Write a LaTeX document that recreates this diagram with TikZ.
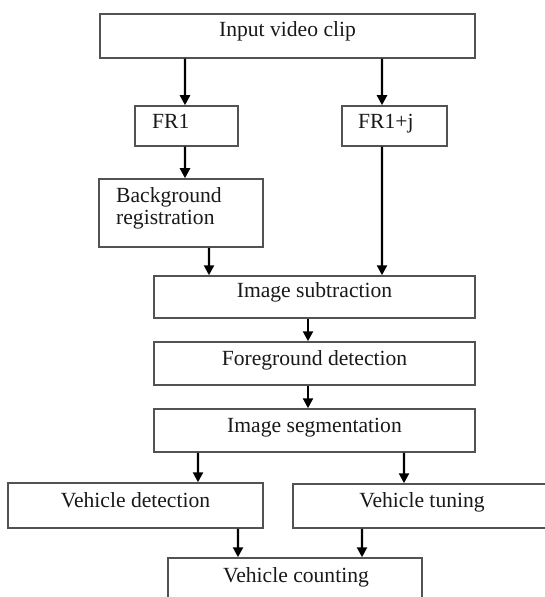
\documentclass[tikz,border=0pt]{standalone}
\usepackage{fontspec}
\setmainfont{Liberation Serif}
\usetikzlibrary{arrows.meta}
\tikzset{
  box/.style={draw=black!68, line width=1.5bp, inner sep=0pt, fill=none},
  lbl/.style={inner sep=0pt, text=black!90, font=\fontsize{21.6bp}{23bp}\selectfont},
  arr/.style={draw=black, line width=2.2bp, -{Triangle[length=10bp,width=10bp]}}
}
\begin{document}
\begin{tikzpicture}[x=1bp,y=-1bp]
\clip (0,0) rectangle (545,597);
\fill[white] (0,0) rectangle (545,597);
% boxes
\node[box, minimum width=375bp, minimum height=44bp] (inp) at (287.5,36) {};
\node[box, minimum width=103bp, minimum height=40bp] (fr1) at (186.5,126) {};
\node[box, minimum width=105bp, minimum height=40bp] (frj) at (394.5,126) {};
\node[box, minimum width=164bp, minimum height=68bp] (bg) at (181,213) {};
\node[box, minimum width=321bp, minimum height=42bp] (isub) at (314.5,297) {};
\node[box, minimum width=321bp, minimum height=43bp] (fd) at (314.5,363.5) {};
\node[box, minimum width=321bp, minimum height=43bp] (seg) at (314.5,430.5) {};
\node[box, minimum width=255bp, minimum height=45bp] (vd) at (135.5,505.5) {};
\node[box, minimum width=258bp, minimum height=44bp] (vt) at (422,506) {};
\node[box, minimum width=254bp, minimum height=64bp] (vc) at (295,590) {};
% labels
\node[lbl, anchor=base] (tinp) at (287.5,37) {Input video clip};
\node[lbl, anchor=base west] (tfr1) at (152,129) {FR1};
\node[lbl, anchor=base west] (tfrj) at (358,129) {FR1+j};
\node[lbl, anchor=base west] (tbg1) at (116,202) {Background};
\node[lbl, anchor=base west] (tbg2) at (116,224) {registration};
\node[lbl, anchor=base] (tis) at (314.5,297) {Image subtraction};
\node[lbl, anchor=base] (tfd) at (314.5,365) {Foreground detection};
\node[lbl, anchor=base] (tseg) at (314.5,432) {Image segmentation};
\node[lbl, anchor=base] (tvd) at (135.5,507) {Vehicle detection};
\node[lbl, anchor=base] (tvt) at (422,507) {Vehicle tuning};
\node[lbl, anchor=base] (tvc) at (296,582) {Vehicle counting};
% connectors
\draw[arr] ([xshift=-102.5bp]inp.south) -- ([xshift=-1.5bp]fr1.north);
\draw[arr] ([xshift=94.5bp]inp.south) -- ([xshift=-12.5bp]frj.north);
\draw[arr] ([xshift=-1.5bp]fr1.south) -- ([xshift=4bp]bg.north);
\draw[arr] ([xshift=28bp]bg.south) -- ([xshift=-105.5bp]isub.north);
\draw[arr] ([xshift=-12.5bp]frj.south) -- ([xshift=67.5bp]isub.north);
\draw[arr] ([xshift=-6.5bp]isub.south) -- ([xshift=-6.5bp]fd.north);
\draw[arr] ([xshift=-6.5bp]fd.south) -- ([xshift=-6.5bp]seg.north);
\draw[arr] ([xshift=-116.5bp]seg.south) -- ([xshift=62.5bp]vd.north);
\draw[arr] ([xshift=89.5bp]seg.south) -- ([xshift=-18bp]vt.north);
\draw[arr] ([xshift=102.5bp]vd.south) -- ([xshift=-57bp]vc.north);
\draw[arr] ([xshift=-60bp]vt.south) -- ([xshift=67bp]vc.north);
\end{tikzpicture}
\end{document}
